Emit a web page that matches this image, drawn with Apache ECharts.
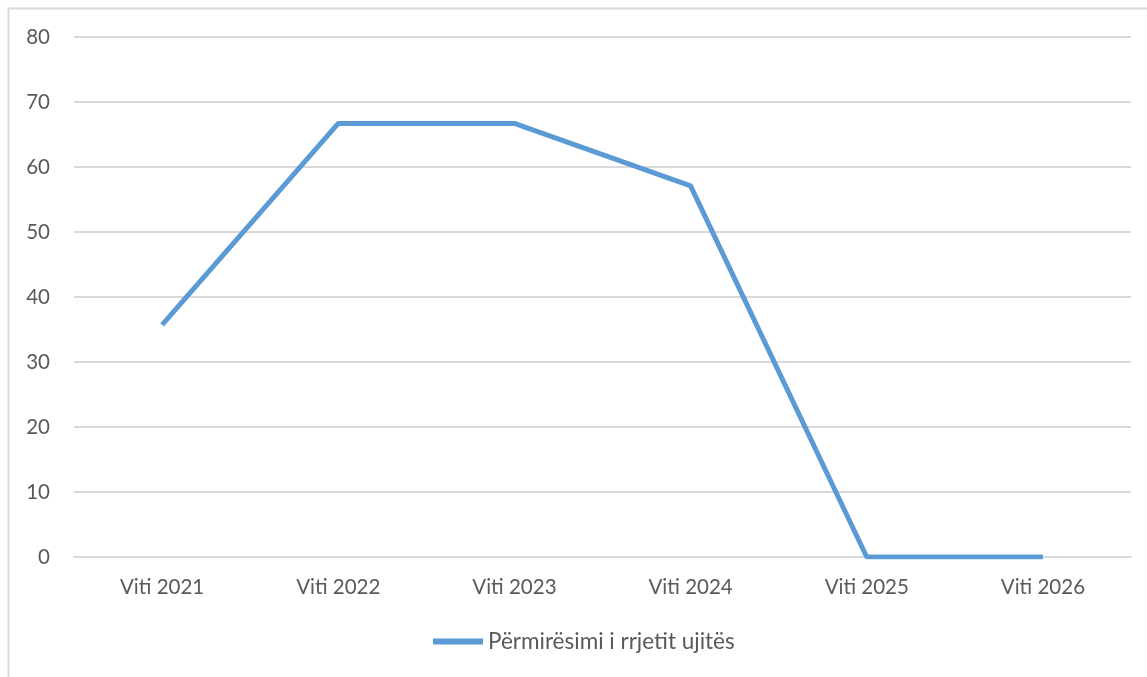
<!DOCTYPE html>
<html>
<head>
<meta charset="utf-8">
<script src="https://cdn.jsdelivr.net/npm/echarts@6/dist/echarts.min.js"></script>
<style>
  html, body { margin: 0; padding: 0; background: #fff; }
  #chart { width: 1147px; height: 677px; }
</style>
</head>
<body>
<div id="chart"></div>
<script>
const years = ['Viti 2021', 'Viti 2022', 'Viti 2023', 'Viti 2024', 'Viti 2025', 'Viti 2026'];
const improvement = [35.7, 66.7, 66.7, 57.1, 0, 0];
const seriesName = 'Përmirësimi i rrjetit ujitës';

const chart = echarts.init(document.getElementById('chart'));
const textColor = '#595959';
const font = 'Lato';

chart.setOption({
    animation: false,
    graphic: [{
        type: 'rect',
        shape: { x: 8.5, y: 8.5, width: 1200, height: 700 },
        style: { fill: 'none', stroke: '#d9d9d9', lineWidth: 2 },
        silent: true
    }],
    grid: { left: 74, right: 16, top: 37, bottom: 120 },
    legend: {
        data: [seriesName],
        left: 433,
        top: 630,
        padding: 0,
        itemWidth: 50,
        itemHeight: 6,
        itemGap: 6,
        icon: 'rect',
        textStyle: { color: textColor, fontSize: 22.5, fontFamily: font }
    },
    xAxis: {
        type: 'category',
        data: years,
        boundaryGap: true,
        axisLine: { show: true, lineStyle: { color: '#d9d9d9', width: 2 } },
        axisTick: { show: false },
        axisLabel: { color: textColor, fontSize: 20.5, fontFamily: font, margin: 20 }
    },
    yAxis: {
        type: 'value',
        min: 0,
        max: 80,
        interval: 10,
        axisLine: { show: false },
        axisTick: { show: false },
        splitLine: { lineStyle: { color: '#d9d9d9', width: 2 } },
        axisLabel: { color: textColor, fontSize: 20.5, fontFamily: font, margin: 24 }
    },
    series: [{
        name: seriesName,
        type: 'line',
        data: improvement,
        symbol: 'none',
        lineStyle: { color: '#5b9bd5', width: 5 },
        itemStyle: { color: '#5b9bd5' }
    }]
});
</script>
</body>
</html>
